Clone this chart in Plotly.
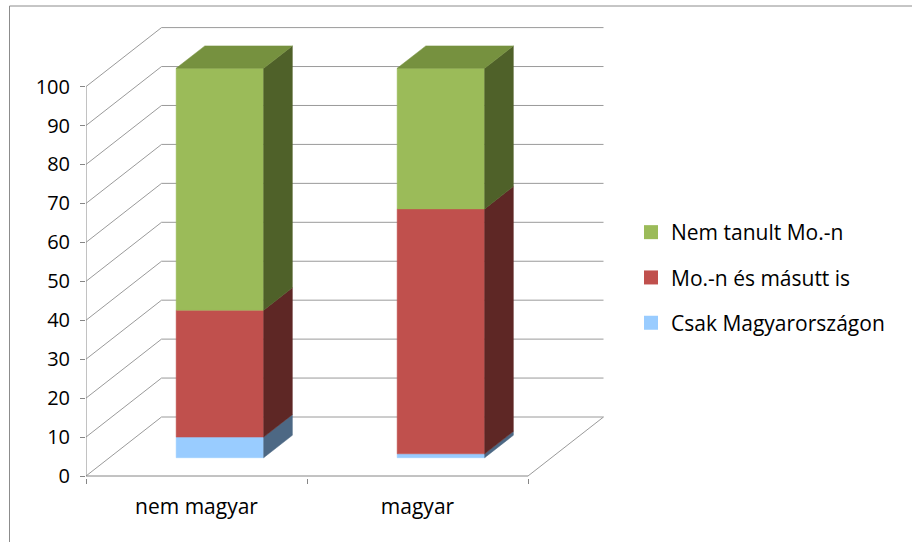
import plotly.graph_objects as go

# ---------------- data ----------------
categories = ["nem magyar", "magyar"]
series_names = ["Csak Magyarországon", "Mo.-n és másutt is", "Nem tanult Mo.-n"]
csak_magyarorszagon = [5.3, 1.0]
mon_es_masutt_is = [32.6, 62.9]
nem_tanult_mon = [62.1, 36.1]
y_tick_values = list(range(0, 101, 10))

series_values = [csak_magyarorszagon, mon_es_masutt_is, nem_tanult_mon]

# ---------------- styles ----------------
front_colors = ["#99CCFF", "#C0504D", "#9BBB59"]
side_colors = ["#4D6884", "#5E2725", "#4F6129"]
top_colors = ["#7A9CC0", "#943734", "#76913F"]
grid_color = "#9A9A9A"
axis_color = "#868686"
FONT = "Open Sans"

# ---------------- geometry (pixel layout -> data scale) ----------------
W, H = 912, 542
PX_X0, PX_PER_CAT = 86, 221.0
PX_Y0, PX_PER_UNIT = 476, 3.894
DEPTH_DX = 75.5 / PX_PER_CAT      # oblique depth offset in category units
DEPTH_DY = 59.0 / PX_PER_UNIT     # oblique depth offset in value units
BAR_W = 0.396
BAR_D0, BAR_D1 = 0.31, 0.69

L, R, T, B = 86, 612, 20, 478
x_range = [(L - PX_X0) / PX_PER_CAT, (R - PX_X0) / PX_PER_CAT]
y_range = [(PX_Y0 - B) / PX_PER_UNIT, (PX_Y0 - T) / PX_PER_UNIT]

fig = go.Figure()


def poly(xs, ys, color):
    fig.add_trace(go.Scatter(
        x=xs + [xs[0]], y=ys + [ys[0]], mode="lines", fill="toself",
        fillcolor=color, line=dict(color=color, width=0.5),
        hoverinfo="skip", showlegend=False))


# walls / gridlines
n_cat = len(categories)
gx, gy = [], []
for v in y_tick_values:
    gx += [0, DEPTH_DX, n_cat + DEPTH_DX, None]
    gy += [v, v + DEPTH_DY, v + DEPTH_DY, None]
gx += [n_cat, n_cat + DEPTH_DX, None]
gy += [0, DEPTH_DY, None]
fig.add_trace(go.Scatter(x=gx, y=gy, mode="lines",
                         line=dict(color=grid_color, width=1),
                         hoverinfo="skip", showlegend=False))

# front axes
fig.add_trace(go.Scatter(x=[0, n_cat, None, 0, 0], y=[0, 0, None, 0, max(y_tick_values)],
                         mode="lines", line=dict(color=axis_color, width=1),
                         hoverinfo="skip", showlegend=False))

# bars
ox0, oy0 = BAR_D0 * DEPTH_DX, BAR_D0 * DEPTH_DY
ox1, oy1 = BAR_D1 * DEPTH_DX, BAR_D1 * DEPTH_DY
for i, cat in enumerate(categories):
    c = i + 0.5
    xl, xr = c - BAR_W / 2, c + BAR_W / 2
    base = 0.0
    n_s = len(series_values)
    for k, vals in enumerate(series_values):
        top = base + vals[i]
        # front face
        poly([xl + ox0, xr + ox0, xr + ox0, xl + ox0],
             [base + oy0, base + oy0, top + oy0, top + oy0], front_colors[k])
        # side face
        poly([xr + ox0, xr + ox1, xr + ox1, xr + ox0],
             [base + oy0, base + oy1, top + oy1, top + oy0], side_colors[k])
        if k == n_s - 1:
            poly([xl + ox0, xr + ox0, xr + ox1, xl + ox1],
                 [top + oy0, top + oy0, top + oy1, top + oy1], top_colors[k])
        base = top

# legend entries (top series first)
for k in reversed(range(len(series_names))):
    fig.add_trace(go.Scatter(
        x=[None], y=[None], mode="markers", name=series_names[k],
        marker=dict(symbol="square", size=14, color=front_colors[k]),
        legendgroup=series_names[k], showlegend=True))

fig.update_layout(
    width=W, height=H,
    margin=dict(l=L, r=W - R, t=T, b=H - B, autoexpand=False),
    paper_bgcolor="white", plot_bgcolor="white",
    font=dict(family=FONT, size=20, color="black"),
    xaxis=dict(range=x_range, showgrid=False, zeroline=False, showline=False,
               tickmode="array", tickvals=[i + 0.5 for i in range(n_cat)], ticktext=categories,
               ticks="", tickfont=dict(size=21, family=FONT), ticklabelstandoff=14,
               minor=dict(tickmode="array", tickvals=list(range(n_cat + 1)), ticks="outside",
                          ticklen=5, tickcolor=axis_color, showgrid=False),
               automargin=False, fixedrange=True),
    yaxis=dict(range=y_range, showgrid=False, zeroline=False, showline=False,
               tickmode="array", tickvals=y_tick_values, ticks="outside", ticklen=5,
               tickcolor=axis_color, tickfont=dict(size=20, family=FONT), ticklabelstandoff=6,
               automargin=False, fixedrange=True),
    legend=dict(xref="container", yref="container", x=631 / W, y=1 - 212 / H,
                xanchor="left", yanchor="top", font=dict(size=21, family=FONT),
                tracegroupgap=15, bgcolor="rgba(0,0,0,0)", itemwidth=30),
    shapes=[dict(type="rect", xref="paper", yref="paper",
                 x0=(9.5 - L) / (R - L), x1=(920 - L) / (R - L),
                 y0=(B - 550) / (B - T), y1=(B - 6) / (B - T),
                 line=dict(color="#8C8C8C", width=1), fillcolor="rgba(0,0,0,0)", layer="below")],
)

fig.write_html("out.html", config={"displayModeBar": False},
               post_script="document.body.style.margin='0';")
